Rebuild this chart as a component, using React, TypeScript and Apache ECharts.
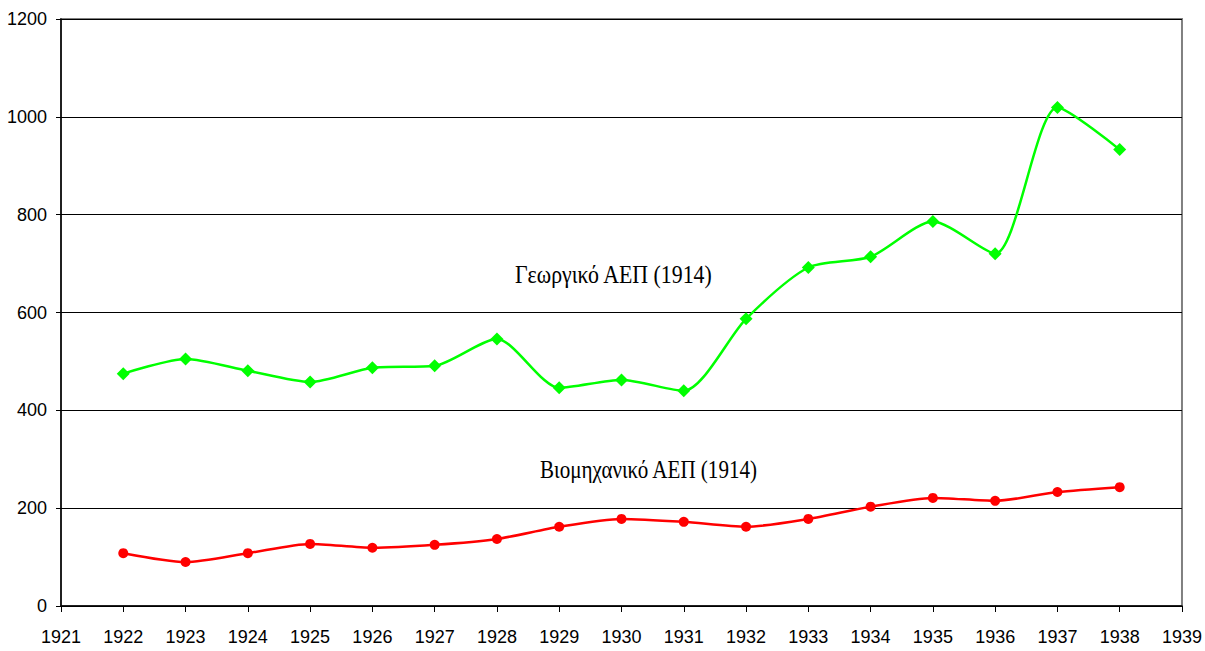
import React, { useEffect, useRef } from "react";
import * as echarts from "echarts";

const years = [1922, 1923, 1924, 1925, 1926, 1927, 1928, 1929, 1930, 1931, 1932, 1933, 1934, 1935, 1936, 1937, 1938];
const agricultural = [475, 505, 481, 458, 487, 491, 546, 446, 462, 440, 587, 692, 714, 786, 720, 1019, 933];
const industrial = [108, 90, 108, 127, 119, 125, 137, 162, 178, 172, 162, 178, 203, 221, 215, 233, 243];
const agriLabel = "Γεωργικό ΑΕΠ (1914)";
const indLabel = "Βιομηχανικό ΑΕΠ (1914)";

export default function App() {
  const ref = useRef<HTMLDivElement>(null);
  useEffect(() => {
    const chart = echarts.init(ref.current!, null, { renderer: "svg" });
    chart.setOption({
      animation: false,
      backgroundColor: "#ffffff",
      grid: {
        left: 61,
        right: 23,
        top: 19,
        bottom: 45,
        show: true,
        borderColor: "#808080",
        borderWidth: 2,
      },
      xAxis: {
        type: "value",
        min: 1921,
        max: 1939,
        interval: 1,
        axisLine: { show: true, onZero: false, lineStyle: { color: "#000", width: 1.5 } },
        axisTick: { show: true, length: 6, lineStyle: { color: "#000", width: 1 } },
        axisLabel: {
          formatter: (v: number) => String(v),
          color: "#000",
          fontFamily: "Liberation Sans, Arial, sans-serif",
          fontSize: 18,
          margin: 22,
        },
        splitLine: { show: false },
      },
      yAxis: {
        type: "value",
        min: 0,
        max: 1200,
        interval: 200,
        axisLine: { show: true, lineStyle: { color: "#000", width: 1.5 } },
        axisTick: { show: true, length: 5, lineStyle: { color: "#000", width: 1 } },
        axisLabel: {
          formatter: (v: number) => String(v),
          color: "#000",
          fontFamily: "Liberation Sans, Arial, sans-serif",
          fontSize: 18,
          margin: 14,
        },
        splitLine: { show: true, lineStyle: { color: "#000", width: 1 } },
      },
      series: [
        {
          type: "line",
          name: agriLabel,
          data: years.map((y, i) => [y, agricultural[i]]),
          smooth: 0.25,
          symbol: "diamond",
          symbolSize: 13,
          lineStyle: { color: "#00ff00", width: 2.5 },
          itemStyle: { color: "#00ff00" },
        },
        {
          type: "line",
          name: indLabel,
          data: years.map((y, i) => [y, industrial[i]]),
          smooth: 0.25,
          symbol: "circle",
          symbolSize: 10,
          lineStyle: { color: "#ff0000", width: 2.5 },
          itemStyle: { color: "#ff0000" },
        },
      ],
      graphic: [
        {
          type: "text",
          x: 515,
          y: 274,
          scaleX: 0.84,
          style: {
            text: agriLabel,
            fill: "#000",
            verticalAlign: "middle",
            font: "26px 'Liberation Serif', 'Times New Roman', serif",
          },
        },
        {
          type: "text",
          x: 540,
          y: 469,
          scaleX: 0.81,
          style: {
            text: indLabel,
            fill: "#000",
            verticalAlign: "middle",
            font: "26px 'Liberation Serif', 'Times New Roman', serif",
          },
        },
      ],
    });
    return () => chart.dispose();
  }, []);
  return (
    <div
      ref={ref}
      style={{ position: "absolute", left: 0, top: 0, width: 1205, height: 651 }}
    />
  );
}
